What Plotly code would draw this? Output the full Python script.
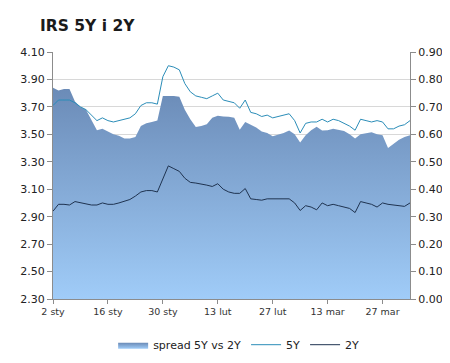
import pandas as pd
import plotly.graph_objects as go

# business-day categories (2 Jan 2013 onwards)
dates = [d.strftime("%Y-%m-%d") for d in pd.bdate_range("2013-01-02", periods=66)]
tick_dates = ["2013-01-02", "2013-01-16", "2013-01-30", "2013-02-13",
              "2013-02-27", "2013-03-13", "2013-03-27"]
tick_labels = ["2 sty", "16 sty", "30 sty", "13 lut", "27 lut", "13 mar", "27 mar"]

rate_5y = [3.71, 3.75, 3.75, 3.75, 3.73, 3.70, 3.68, 3.64, 3.60, 3.62,
           3.60, 3.59, 3.60, 3.61, 3.62, 3.65, 3.71, 3.73, 3.73, 3.72,
           3.92, 4.00, 3.99, 3.97, 3.87, 3.81, 3.78, 3.77, 3.76, 3.78,
           3.80, 3.75, 3.74, 3.73, 3.69, 3.75, 3.66, 3.65, 3.63, 3.64,
           3.62, 3.63, 3.64, 3.65, 3.60, 3.51, 3.58, 3.59, 3.59, 3.61,
           3.59, 3.61, 3.60, 3.58, 3.56, 3.53, 3.61, 3.60, 3.59, 3.60,
           3.59, 3.54, 3.54, 3.56, 3.57, 3.60]

rate_2y = [2.94, 2.99, 2.99, 2.985, 3.01, 3.00, 2.99, 2.985, 2.985, 3.00,
           2.99, 2.99, 3.00, 3.01, 3.025, 3.05, 3.08, 3.09, 3.09, 3.08,
           3.17, 3.27, 3.25, 3.23, 3.18, 3.15, 3.145, 3.14, 3.13, 3.12,
           3.14, 3.10, 3.08, 3.07, 3.07, 3.105, 3.03, 3.025, 3.02, 3.03,
           3.03, 3.03, 3.03, 3.03, 3.00, 2.945, 2.98, 2.97, 2.95, 3.00,
           2.98, 2.99, 2.98, 2.97, 2.96, 2.93, 3.01, 3.00, 2.99, 2.97,
           3.00, 2.99, 2.985, 2.98, 2.975, 3.00]

spread = [0.77, 0.76, 0.765, 0.765, 0.72, 0.70, 0.69, 0.655, 0.615, 0.62,
          0.61, 0.60, 0.595, 0.585, 0.585, 0.59, 0.63, 0.64, 0.645, 0.65,
          0.74, 0.74, 0.74, 0.737, 0.69, 0.655, 0.627, 0.63, 0.637, 0.66,
          0.668, 0.665, 0.664, 0.66, 0.617, 0.645, 0.635, 0.625, 0.61, 0.605,
          0.593, 0.598, 0.605, 0.614, 0.60, 0.57, 0.597, 0.615, 0.628, 0.614,
          0.615, 0.62, 0.617, 0.612, 0.60, 0.585, 0.60, 0.605, 0.608, 0.60,
          0.597, 0.55, 0.565, 0.58, 0.59, 0.597]

FONT = "DejaVu Sans"

fig = go.Figure()
fig.add_trace(go.Scatter(
    x=dates, y=spread, name="spread 5Y vs 2Y", yaxis="y",
    mode="lines", line=dict(width=0, color="#7096c4"),
    fill="tozeroy",
    fillgradient=dict(type="vertical", start=0, stop=0.78,
                      colorscale=[[0, "#a0ccf8"], [1, "#6a8ab6"]]),
))
fig.add_trace(go.Scatter(
    x=dates, y=rate_5y, name="5Y", yaxis="y2",
    mode="lines", line=dict(width=1, color="#2b8db8"),
))
fig.add_trace(go.Scatter(
    x=dates, y=rate_2y, name="2Y", yaxis="y2",
    mode="lines", line=dict(width=1, color="#1f3350"),
))

axis_line = "#8c8c8c"
fig.update_layout(
    width=450, height=363,
    margin=dict(l=43, r=48, t=44, b=59),
    paper_bgcolor="white", plot_bgcolor="white",
    font=dict(family=FONT, size=11, color="#222222"),
    title=dict(text="<b>IRS 5Y i 2Y</b>", x=32/450, xref="container", xanchor="left",
               y=1-18/363, yref="container", yanchor="middle",
               font=dict(family=FONT, size=15.5, color="#1a1a1a")),
    xaxis=dict(type="category", range=[0, 65], tickmode="array",
               tickvals=tick_dates, ticktext=tick_labels,
               showgrid=False, showline=True, linecolor=axis_line, linewidth=1,
               ticks="outside", ticklen=4, tickcolor=axis_line,
               tickfont=dict(size=9.5, color="#333333")),
    yaxis=dict(side="right", range=[0, 0.9], tick0=0, dtick=0.1, tickformat=".2f",
               showgrid=False, zeroline=False, showline=True, linecolor=axis_line,
               ticks="outside", ticklen=5, tickcolor=axis_line,
               tickfont=dict(size=11, color="#222222")),
    yaxis2=dict(overlaying="y", side="left", range=[2.3, 4.1], tick0=2.3, dtick=0.2,
                tickformat=".2f", showgrid=True, gridcolor="#d8d8d8",
                zeroline=False, showline=True, linecolor=axis_line,
                ticks="outside", ticklen=5, tickcolor=axis_line,
                tickfont=dict(size=11, color="#222222")),
    legend=dict(orientation="h", x=0.52, xanchor="center", y=-0.185, yanchor="middle",
                font=dict(size=11, color="#222222"), itemwidth=30,
                traceorder="normal", bgcolor="rgba(0,0,0,0)"),
    showlegend=True,
)

fig.write_html("out.html")
